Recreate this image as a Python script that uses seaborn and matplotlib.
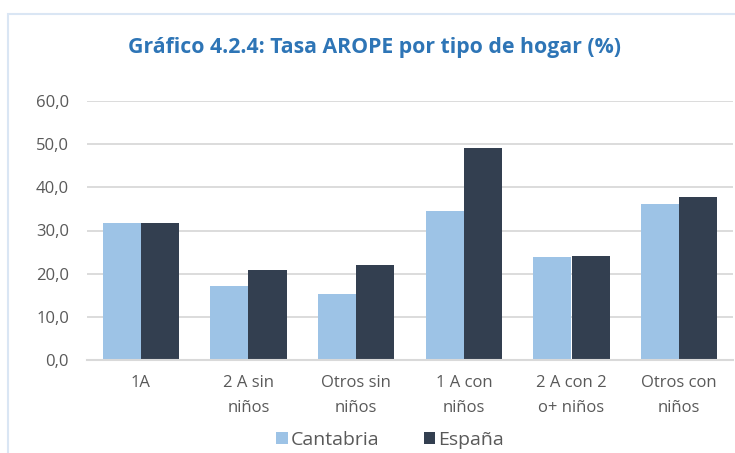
import pandas as pd
import matplotlib.pyplot as plt
import seaborn as sns
from matplotlib.patches import Rectangle, Patch

categorias = ['1A', '2 A sin\nniños', 'Otros sin\nniños', '1 A con\nniños',
              '2 A con 2\no+ niños', 'Otros con\nniños']
cantabria = [31.7, 17.2, 15.3, 34.6, 23.8, 36.2]
espana = [31.7, 20.8, 22.1, 49.1, 24.2, 37.8]
series = ['Cantabria', 'España']
colores = ['#9DC3E6', '#333F50']

df = pd.DataFrame({
    'tipo': categorias * 2,
    'region': ['Cantabria'] * len(categorias) + ['España'] * len(categorias),
    'tasa': cantabria + espana,
})

sns.set_style('white')
plt.rcParams['font.family'] = ['Open Sans', 'DejaVu Sans']

fig = plt.figure(figsize=(7.35, 4.53), dpi=100)
ax = fig.add_axes([87 / 735, 1 - 360 / 453, 646 / 735, 259 / 453])

sns.barplot(x='tipo', y='tasa', hue='region', data=df, order=categorias,
            hue_order=series, palette=colores, width=0.706, saturation=1,
            edgecolor='none', linewidth=0, ax=ax, legend=False)

ax.set_ylim(0, 60)
ax.set_xlim(-0.5, len(categorias) - 0.5)
ax.set_yticks(range(0, 61, 10))
ax.set_yticklabels([f'{v},0' for v in range(0, 61, 10)])
ax.yaxis.grid(True, color='#D9D9D9', linewidth=1.3)
ax.set_axisbelow(True)
for s in ['top', 'right', 'left']:
    ax.spines[s].set_visible(False)
ax.spines['bottom'].set_color('#D9D9D9')
ax.spines['bottom'].set_linewidth(1.5)
ax.tick_params(axis='both', length=0, labelsize=12, colors='#595959')
ax.tick_params(axis='y', pad=13)
ax.tick_params(axis='x', pad=11)
for lbl in ax.get_xticklabels():
    lbl.set_linespacing(1.75)
ax.set_xlabel('')
ax.set_ylabel('')

fig.text(0.51, 1 - 48 / 453, 'Gráfico 4.2.4: Tasa AROPE por tipo de hogar (%)',
         ha='center', va='center', fontsize=15.3, fontweight='bold', color='#2E75B6')

handles = [Patch(facecolor=c, edgecolor='none') for c in colores]
fig.legend(handles, series, loc='center', bbox_to_anchor=(390 / 735, 1 - 440 / 453),
           ncol=2, frameon=False, fontsize=14, handlelength=0.6, handleheight=0.6,
           handletextpad=0.15, columnspacing=2.3, labelcolor='#595959')

fig.patches.append(Rectangle((8 / 735, -0.05), 1.2, 1 - 13.5 / 453 + 0.05,
                             transform=fig.transFigure, fill=False,
                             edgecolor='#DAE6F4', linewidth=1.5))

fig.savefig('out.png', dpi=100)
